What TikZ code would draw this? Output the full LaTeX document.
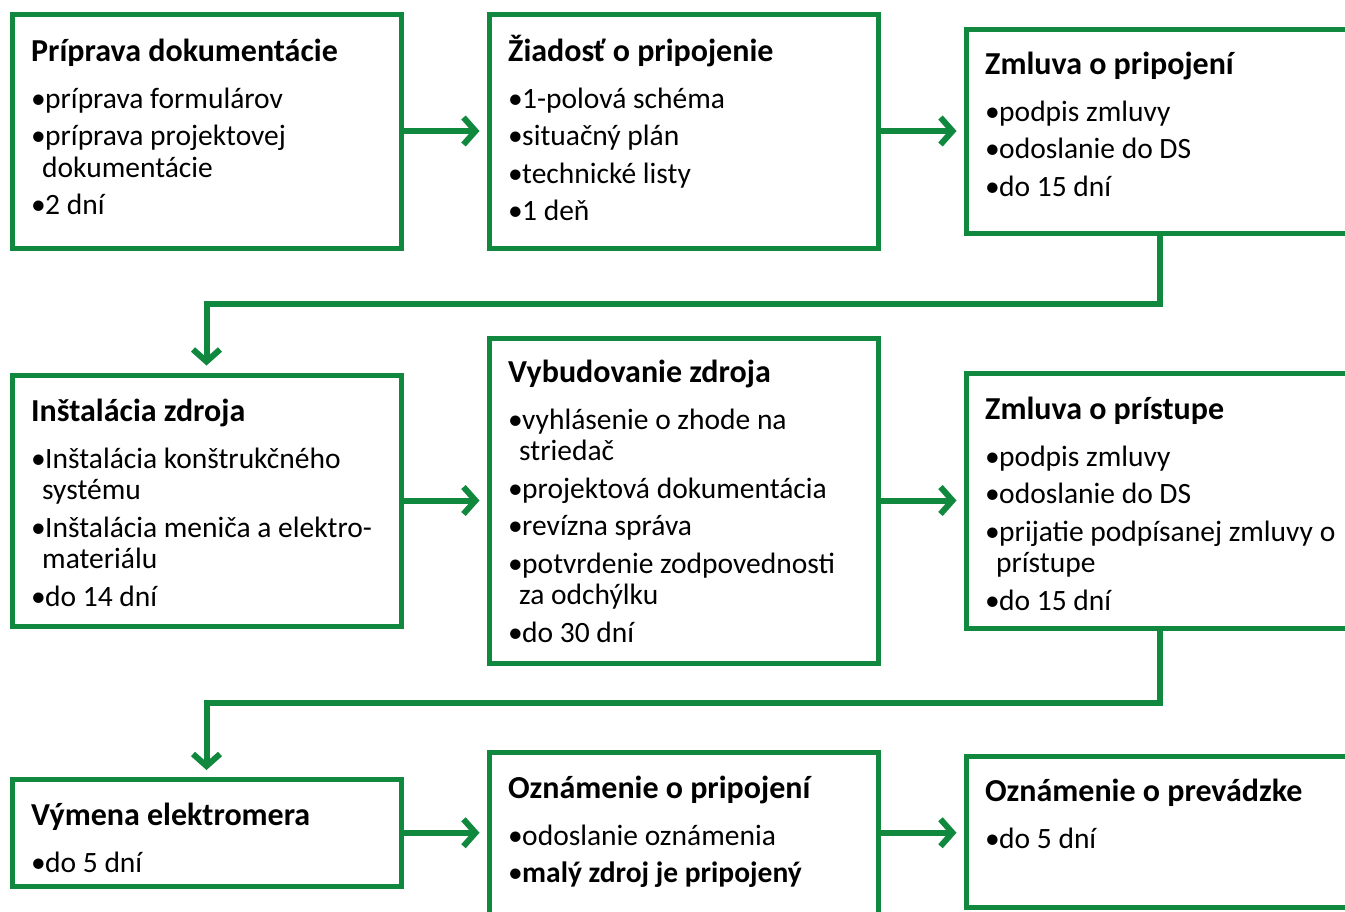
\documentclass[tikz,border=0pt]{standalone}
\usepackage{fontspec}
\setmainfont{Carlito}
\usetikzlibrary{arrows.meta,calc}
\definecolor{grn}{RGB}{16,137,62}
\newcommand\bitem[1]{\par\hangindent=11pt\hangafter=1\noindent\makebox[14pt][l]{\textbullet}#1}
\newcommand\boxtext[2]{\parbox[t]{370pt}{\fontsize{29.5}{31.5}\selectfont\setlength\parskip{6pt}\noindent{\fontsize{32}{31.5}\selectfont\bfseries #1}\par\vspace{9.5pt}#2}}
\tikzset{
  bx/.style={draw=grn, line width=5pt, inner sep=0pt, rectangle},
  txt/.style={anchor=base west, inner sep=0pt},
  arr/.style={draw=grn, line width=6pt, -{Straight Barb[length=12pt,width=27pt]}, shorten >=7pt}
}
\begin{document}
\begin{tikzpicture}[x=1pt,y=-1pt]
\useasboundingbox (0,0) rectangle (1345,911);
\clip (0,0) rectangle (1345,911);
\fill[white] (0,0) rectangle (1345,911);
% boxes
\node[bx, minimum width=389pt, minimum height=234pt] (b1) at (206.5,131) {};
\node[bx, minimum width=389pt, minimum height=234pt] (b2) at (683.5,131) {};
\node[bx, minimum width=388pt, minimum height=204.5pt] (b3) at (1160,131.25) {};
\node[bx, minimum width=389pt, minimum height=251pt] (b4) at (206.5,500.5) {};
\node[bx, minimum width=389pt, minimum height=325pt] (b5) at (683.5,500.5) {};
\node[bx, minimum width=388pt, minimum height=255pt] (b6) at (1160,500.5) {};
\node[bx, minimum width=389pt, minimum height=106.5pt] (b7) at (206.5,832.75) {};
\node[bx, minimum width=389pt, minimum height=162pt] (b8) at (683.5,833.5) {};
\node[bx, minimum width=388pt, minimum height=150.5pt] (b9) at (1160,831.75) {};
% texts
\node[txt] (t1) at (31,61) {\boxtext{Príprava dokumentácie}{\bitem{príprava formulárov}\bitem{príprava projektovej\\dokumentácie}\bitem{2 dní}}};
\node[txt] (t2) at (508,61) {\boxtext{Žiadosť o pripojenie}{\bitem{1-polová schéma}\bitem{situačný plán}\bitem{technické listy}\bitem{1 deň}}};
\node[txt] (t3) at (985,74) {\boxtext{Zmluva o pripojení}{\bitem{podpis zmluvy}\bitem{odoslanie do DS}\bitem{do 15 dní}}};
\node[txt] (t4) at (31,421) {\boxtext{Inštalácia zdroja}{\bitem{Inštalácia konštrukčného\\systému}\bitem{Inštalácia meniča a elektro-\\materiálu}\bitem{do 14 dní}}};
\node[txt] (t5) at (508,382) {\boxtext{Vybudovanie zdroja}{\bitem{vyhlásenie o zhode na\\striedač}\bitem{projektová dokumentácia}\bitem{revízna správa}\bitem{potvrdenie zodpovednosti\\za odchýlku}\bitem{do 30 dní}}};
\node[txt] (t6) at (985,419) {\boxtext{Zmluva o prístupe}{\bitem{podpis zmluvy}\bitem{odoslanie do DS}\bitem{prijatie podpísanej zmluvy o\\prístupe}\bitem{do 15 dní}}};
\node[txt] (t7) at (31,825) {\boxtext{Výmena elektromera}{\bitem{do 5 dní}}};
\node[txt] (t8) at (508,798) {\boxtext{Oznámenie o pripojení}{\bitem{odoslanie oznámenia}\bitem{\bfseries malý zdroj je pripojený}}};
\node[txt] (t9) at (985,801) {\boxtext{Oznámenie o prevádzke}{\bitem{do 5 dní}}};
% connectors
\draw[arr] (b1.east) -- (b2.west);
\draw[arr] (b2.east) -- (b2.east -| b3.west);
\draw[arr] (b4.east) -- (b4.east -| b5.west);
\draw[arr] (b5.east) -- (b5.east -| b6.west);
\draw[arr] (b7.east) -- (b7.east -| b8.west);
\draw[arr] (b7.east -| b8.east) -- (b7.east -| b9.west);
\coordinate (m1) at (206.5,304);
\coordinate (m2) at (206.5,703);
\draw[arr] (b3.south) |- (m1) -- (b4.north);
\draw[arr] (b6.south) |- (m2) -- (b7.north);
\end{tikzpicture}
\end{document}
